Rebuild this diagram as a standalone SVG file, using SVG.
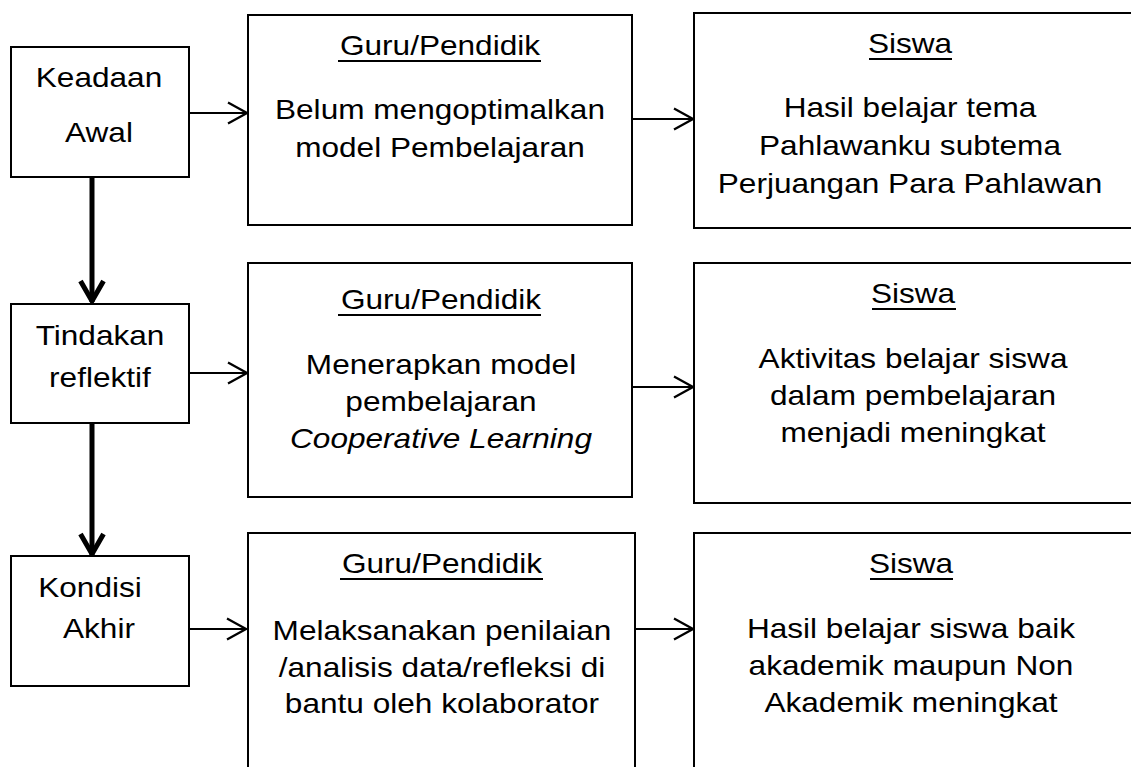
<svg xmlns="http://www.w3.org/2000/svg" width="1131" height="767" viewBox="0 0 1131 767">
<style>
  .box { fill: #fff; stroke: #000; stroke-width: 2; }
  .t { font-family: "Liberation Sans", Arial, sans-serif; font-size: 27px; fill: #000; text-anchor: middle; }
  .it { font-style: italic; }
  .ul { stroke: #000; stroke-width: 2; }
  .thin { stroke: #000; stroke-width: 2; fill: none; }
  .thick { stroke: #000; stroke-width: 5; fill: none; }
</style>
<defs>
  <marker id="open" markerUnits="userSpaceOnUse" viewBox="0 0 22 24" refX="20" refY="12" markerWidth="22" markerHeight="24" orient="auto">
    <polyline points="1,1.5 20,12 1,22.5" fill="none" stroke="#000" stroke-width="2.2"/>
  </marker>
  <marker id="openBold" markerUnits="userSpaceOnUse" viewBox="0 0 26 28" refX="23" refY="14" markerWidth="26" markerHeight="28" orient="auto">
    <polyline points="2,2.5 22,14 2,25.5" fill="none" stroke="#000" stroke-width="5" stroke-linejoin="miter"/>
  </marker>
</defs>
<rect width="1131" height="767" fill="#fff"/>

<g id="connectors">
  <line class="thin" x1="189" y1="113" x2="247" y2="113" marker-end="url(#open)"/>
  <line class="thin" x1="632" y1="119" x2="693" y2="119" marker-end="url(#open)"/>
  <line class="thin" x1="189" y1="373" x2="247" y2="373" marker-end="url(#open)"/>
  <line class="thin" x1="632" y1="387" x2="693" y2="387" marker-end="url(#open)"/>
  <line class="thin" x1="189" y1="629" x2="246" y2="629" marker-end="url(#open)"/>
  <line class="thin" x1="635" y1="629" x2="693" y2="629" marker-end="url(#open)"/>
  <line class="thick" x1="92" y1="177" x2="92" y2="302" marker-end="url(#openBold)"/>
  <line class="thick" x1="92" y1="423" x2="92" y2="555" marker-end="url(#openBold)"/>
</g>

<g id="keadaan-awal">
  <rect class="box" x="11" y="47" width="178" height="130"/>
  <g transform="translate(99,0) scale(1.17,1)">
    <text class="t" x="0" y="87">Keadaan</text>
    <text class="t" x="0" y="142">Awal</text>
  </g>
</g>

<g id="tindakan-reflektif">
  <rect class="box" x="11" y="304" width="178" height="119"/>
  <g transform="translate(100,0) scale(1.17,1)">
    <text class="t" x="0" y="345">Tindakan</text>
    <text class="t" x="0" y="387">reflektif</text>
  </g>
</g>

<g id="kondisi-akhir">
  <rect class="box" x="11" y="556" width="178" height="130"/>
  <g transform="translate(90,0) scale(1.17,1)">
    <text class="t" x="0" y="597">Kondisi</text>
  </g>
  <g transform="translate(99,0) scale(1.17,1)">
    <text class="t" x="0" y="638">Akhir</text>
  </g>
</g>

<g id="guru-1">
  <rect class="box" x="248" y="15" width="384" height="210"/>
  <line class="ul" x1="338" y1="61" x2="541" y2="61"/>
  <g transform="translate(440,0) scale(1.17,1)">
    <text class="t" x="0" y="55">Guru/Pendidik</text>
    <text class="t" x="0" y="119">Belum mengoptimalkan</text>
    <text class="t" x="0" y="157">model Pembelajaran</text>
  </g>
</g>

<g id="guru-2">
  <rect class="box" x="248" y="263" width="384" height="234"/>
  <line class="ul" x1="338" y1="315" x2="541" y2="315"/>
  <g transform="translate(441,0) scale(1.17,1)">
    <text class="t" x="0" y="309">Guru/Pendidik</text>
    <text class="t" x="0" y="374">Menerapkan model</text>
    <text class="t" x="0" y="411">pembelajaran</text>
    <text class="t it" x="0" y="448">Cooperative Learning</text>
  </g>
</g>

<g id="guru-3">
  <rect class="box" x="248" y="533" width="387" height="250"/>
  <line class="ul" x1="340" y1="579" x2="543" y2="579"/>
  <g transform="translate(442,0) scale(1.17,1)">
    <text class="t" x="0" y="573">Guru/Pendidik</text>
    <text class="t" x="0" y="640">Melaksanakan penilaian</text>
    <text class="t" x="0" y="677">/analisis data/refleksi di</text>
    <text class="t" x="0" y="713">bantu oleh kolaborator</text>
  </g>
</g>

<g id="siswa-1">
  <rect class="box" x="694" y="13" width="445" height="215"/>
  <line class="ul" x1="869" y1="59" x2="952" y2="59"/>
  <g transform="translate(910,0) scale(1.17,1)">
    <text class="t" x="0" y="53">Siswa</text>
    <text class="t" x="0" y="117">Hasil belajar tema</text>
    <text class="t" x="0" y="155">Pahlawanku subtema</text>
    <text class="t" x="0" y="193">Perjuangan Para Pahlawan</text>
  </g>
</g>

<g id="siswa-2">
  <rect class="box" x="694" y="263" width="445" height="240"/>
  <line class="ul" x1="872" y1="309" x2="956" y2="309"/>
  <g transform="translate(913,0) scale(1.17,1)">
    <text class="t" x="0" y="303">Siswa</text>
    <text class="t" x="0" y="368">Aktivitas belajar siswa</text>
    <text class="t" x="0" y="405">dalam pembelajaran</text>
    <text class="t" x="0" y="442">menjadi meningkat</text>
  </g>
</g>

<g id="siswa-3">
  <rect class="box" x="694" y="533" width="445" height="250"/>
  <line class="ul" x1="870" y1="579" x2="953" y2="579"/>
  <g transform="translate(911,0) scale(1.17,1)">
    <text class="t" x="0" y="573">Siswa</text>
    <text class="t" x="0" y="638">Hasil belajar siswa baik</text>
    <text class="t" x="0" y="675">akademik maupun Non</text>
    <text class="t" x="0" y="712">Akademik meningkat</text>
  </g>
</g>
</svg>
